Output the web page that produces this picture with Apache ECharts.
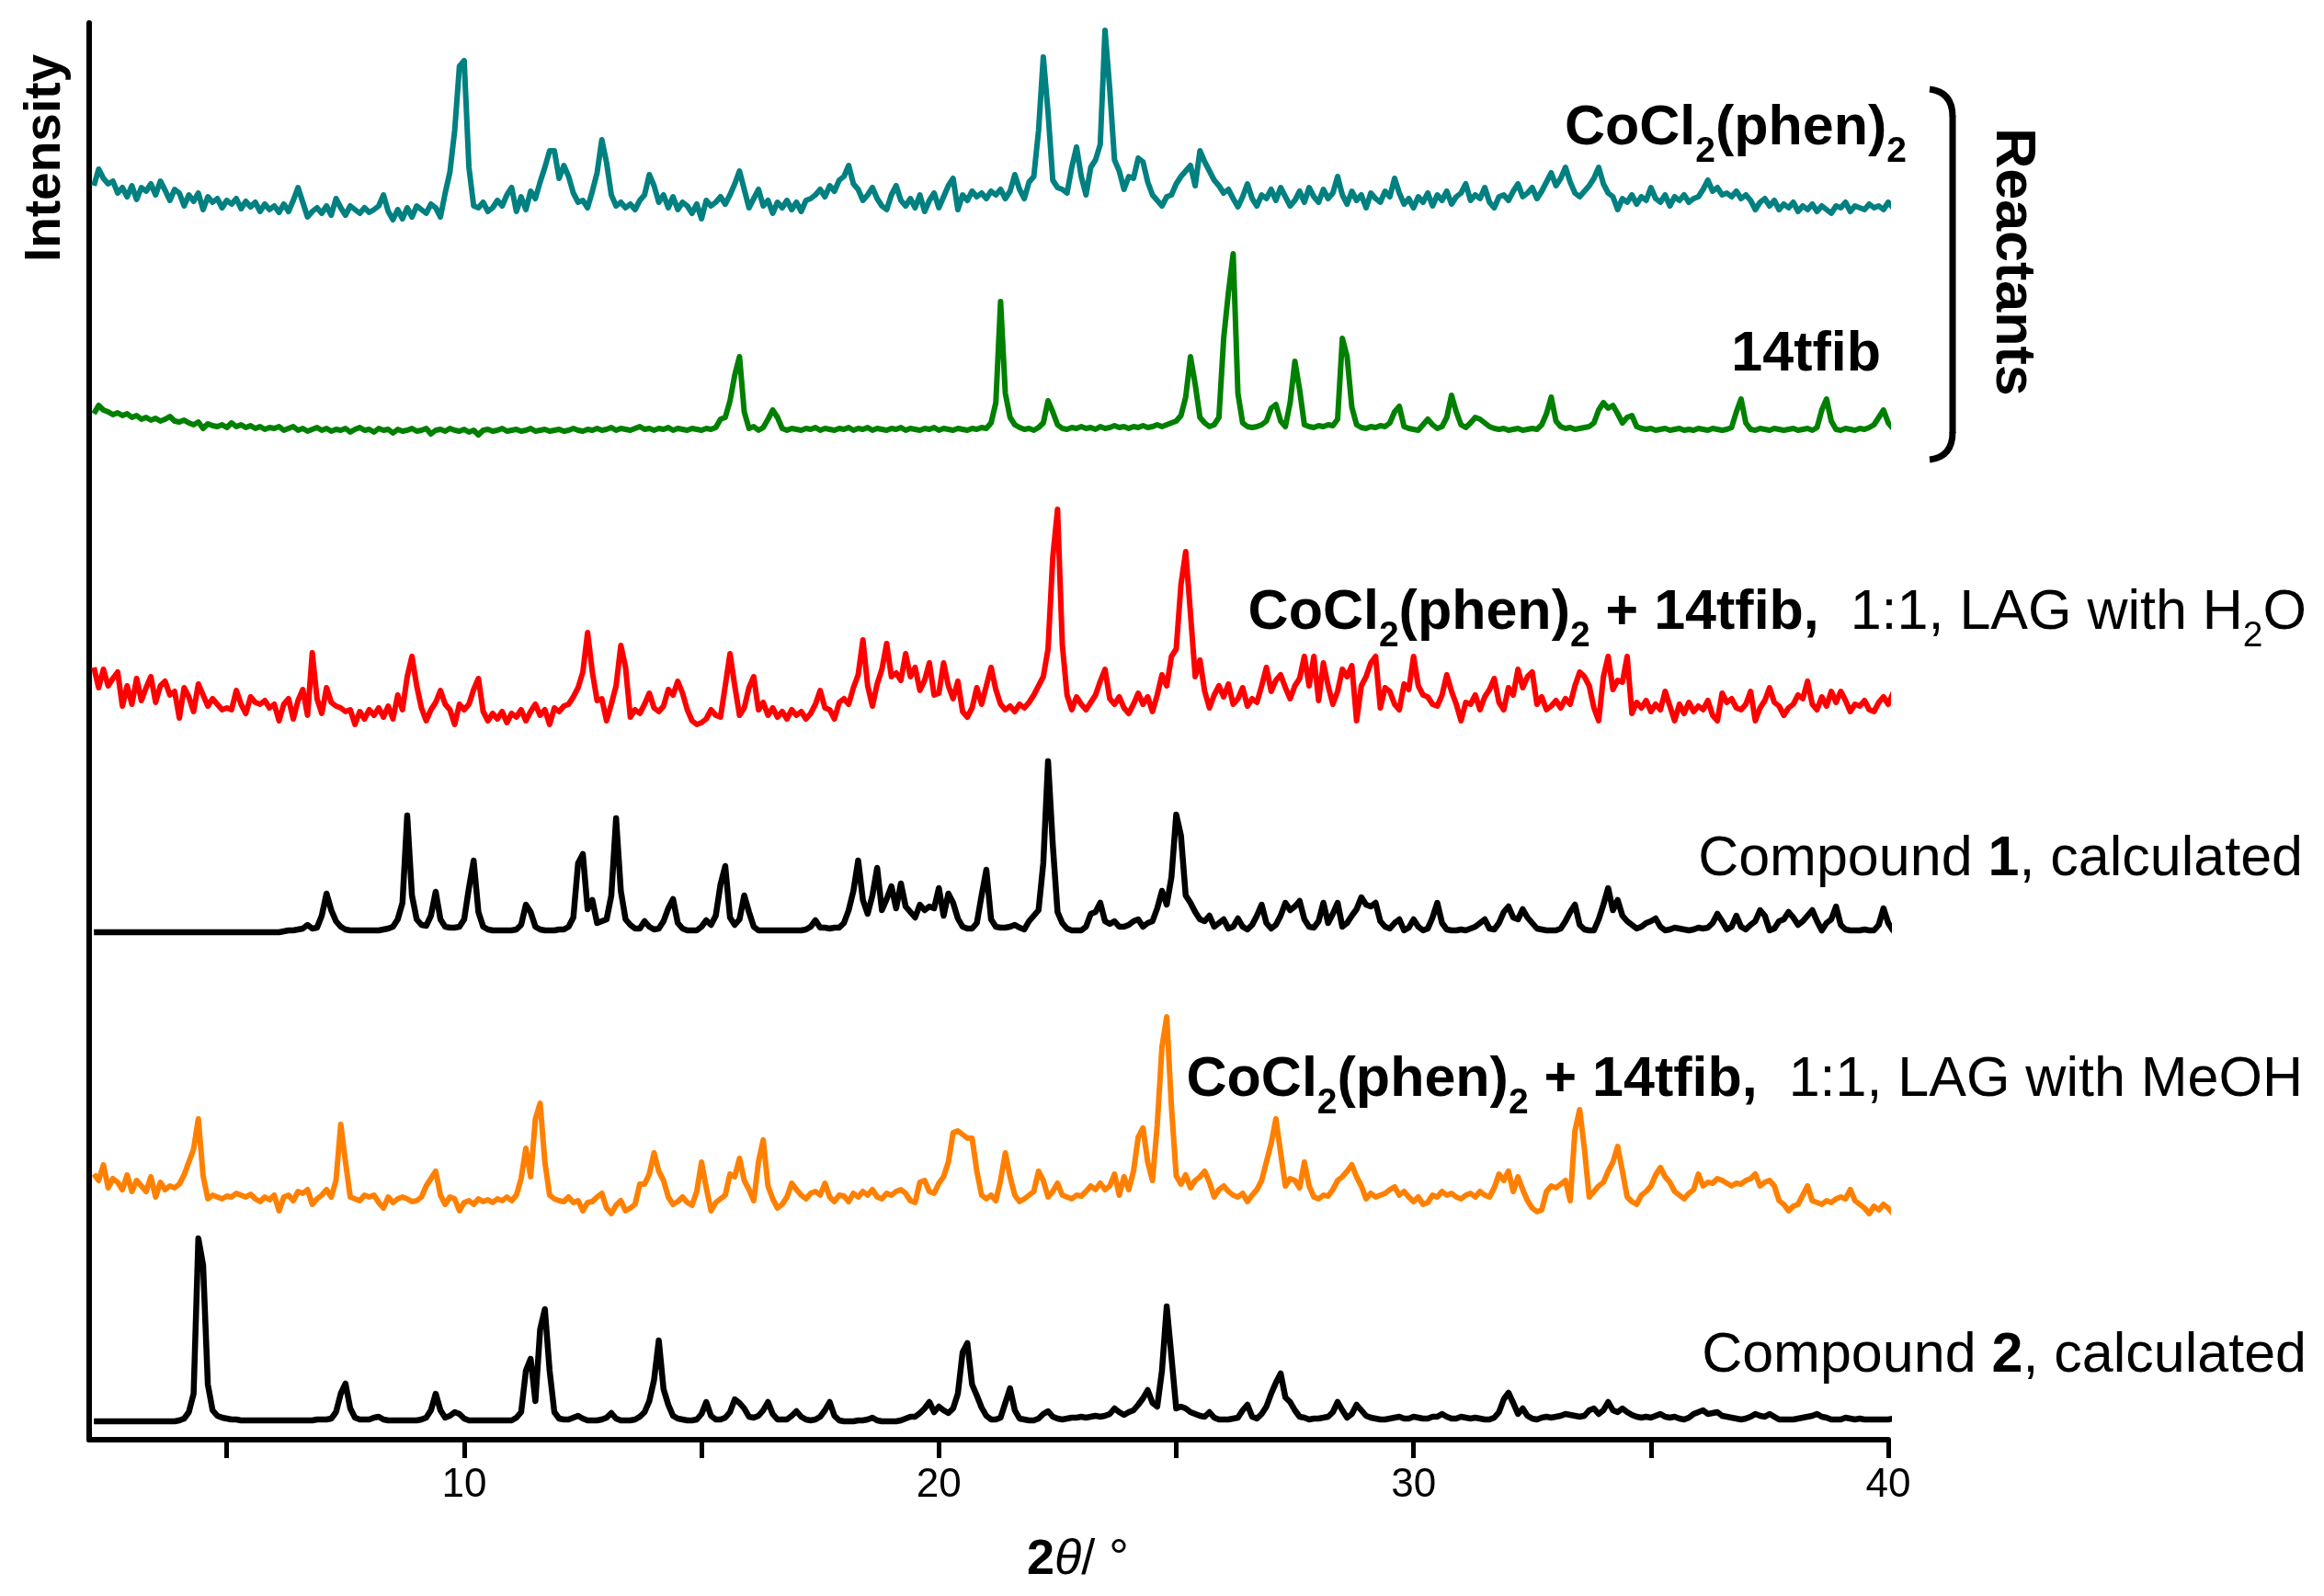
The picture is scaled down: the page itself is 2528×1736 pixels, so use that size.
<!DOCTYPE html>
<html>
<head>
<meta charset="utf-8">
<script src="https://cdn.jsdelivr.net/npm/echarts@6.0.0/dist/echarts.min.js"></script>
<style>html,body{margin:0;padding:0;background:#fff}#c{width:2528px;height:1736px}</style>
</head>
<body>
<div id="c"></div>
<script>
// 2θ sampling grid: 2.2° .. 40.2° in 0.1° steps (381 points)
const thetaStart = 2.2, thetaStep = 0.1, nPoints = 381;
const tickValues = [5, 10, 15, 20, 25, 30, 35, 40];
const labelValues = [10, 20, 30, 40];
const seriesNames = ['CoCl2(phen)2', '14tfib', 'LAG H2O', 'Compound 1 calc', 'LAG MeOH', 'Compound 2 calc'];
const seriesColors = ['#008080', '#008000', '#ff0000', '#000000', '#ff8000', '#000000'];
const offsets = [1344, 1098, 790, 552, 262, 20];

const cocl2phen2 = [
20,38,28,22,25,12,18,8,
20,5,18,14,22,10,25,15,4,16,
12,-2,10,3,12,-6,8,2,6,-4,
4,0,6,-5,3,-3,2,-8,0,-6,
-2,-9,0,-8,4,18,2,-14,-8,-4,
-10,-2,-12,6,-4,-12,-2,-6,-10,-4,
-9,-6,-2,10,-8,-17,-6,-16,-4,-14,
-2,-6,-10,0,-4,-14,12,35,80,150,
156,40,-2,-4,2,-8,-4,4,-2,10,
18,-8,8,-6,14,6,24,40,58,58,
28,42,30,12,2,4,-4,14,34,70,
45,10,-2,2,-4,0,-6,4,10,32,
20,2,10,-4,8,-6,2,-2,-10,0,
-16,4,-2,2,8,0,10,22,36,16,
-4,6,16,-2,4,-10,2,-4,4,-6,
2,-8,4,6,10,16,8,20,14,26,
30,42,22,16,4,10,18,6,-2,-6,
10,20,4,-2,6,-4,10,-8,4,12,
-4,8,20,28,-6,10,4,14,8,12,
6,14,10,16,6,14,32,16,6,24,
30,80,160,100,26,18,16,12,40,62,
30,10,40,48,65,189,125,48,36,16,
30,28,50,46,24,10,4,-2,8,10,
22,30,36,42,20,58,46,36,26,20,
12,16,6,-3,8,22,6,-2,10,6,
16,4,18,8,-2,4,14,2,18,8,
2,16,6,12,30,10,0,14,4,10,
-4,12,6,2,14,8,28,12,0,6,
-4,8,2,12,-2,10,4,14,0,8,
12,22,4,10,6,18,2,-4,8,10,
4,14,22,8,12,18,6,14,24,34,
20,28,40,24,12,8,14,20,28,40,
22,12,8,-6,6,2,10,0,8,4,
18,6,2,10,-2,8,4,10,2,6,
8,16,26,14,18,10,12,8,14,6,
10,4,-6,2,6,-2,4,-6,0,-4,
2,-8,-2,-6,0,-8,-2,-6,-10,-2,
-4,2,-8,-2,-4,-6,0,-4,-2,-6,
2,-4,-8
];

const tfib14 = [
18,27,22,20,17,19,16,18,
14,16,12,14,11,13,10,12,15,10,
9,11,8,6,9,2,7,5,4,6,
3,8,4,6,3,5,2,4,1,3,
2,4,0,2,4,0,2,-1,1,3,
0,2,-1,1,0,2,-2,1,3,0,
1,-2,2,0,1,-3,1,-1,0,2,
-1,0,2,-4,0,1,-1,2,0,-1,
1,-2,0,-5,0,1,-1,0,2,-1,
0,1,-1,0,2,-1,0,1,-1,0,
1,-1,0,2,0,-1,1,0,2,0,
1,3,0,2,1,0,2,4,1,2,
0,2,1,3,0,2,1,0,2,1,
0,2,1,3,12,14,32,60,80,20,
2,4,0,3,12,22,14,2,0,2,
1,0,2,1,3,0,2,1,0,2,
1,3,0,2,1,3,0,2,1,0,
2,1,3,0,2,1,0,2,1,3,
0,2,1,0,2,1,0,2,1,3,
2,8,30,140,40,14,6,3,1,2,
0,3,8,32,20,6,2,1,3,2,
4,2,3,1,4,2,3,5,3,4,
2,4,3,5,3,4,6,4,6,8,
10,16,36,80,50,14,8,4,6,14,
100,150,192,40,8,4,3,4,6,10,
24,28,10,4,30,75,44,6,4,3,
5,4,6,5,12,100,80,25,6,3,
2,4,3,5,4,8,20,26,4,2,
1,0,6,12,6,2,4,14,38,20,
6,3,8,14,12,8,4,2,1,2,
0,1,2,0,1,2,1,6,18,36,
10,4,2,3,1,2,3,4,8,22,
30,24,27,18,8,14,16,4,2,1,
2,0,1,2,0,1,2,0,1,0,
2,1,0,2,1,0,1,3,20,34,
8,1,0,2,1,0,2,1,0,1,
2,0,1,2,0,3,22,34,10,1,
0,2,1,0,2,1,3,6,14,22,
8,2,-4
];

const lagH2O = [
50,28,48,30,38,45,8,30,
10,38,14,28,40,12,30,35,20,24,
-5,28,18,2,32,20,8,16,10,4,
6,4,25,10,0,18,12,10,14,6,
10,-8,10,16,-6,14,26,-2,66,16,
0,28,12,8,6,2,4,-12,2,-6,
4,-2,6,-4,8,-6,20,4,40,62,
30,6,-8,4,12,25,10,4,-12,10,
4,10,26,38,2,-8,0,-6,2,-10,
0,-4,4,-8,2,10,-2,4,-12,6,
2,8,10,18,28,45,88,45,14,16,
-8,10,30,74,50,-4,4,0,10,22,
6,2,8,26,20,35,22,4,-8,-12,
-10,-6,4,-2,-4,30,65,30,-2,6,
28,40,4,12,-2,6,-4,2,-6,4,
-2,2,-6,0,10,25,6,4,-6,12,
16,10,28,42,80,30,8,32,48,76,
40,44,36,65,40,50,25,36,55,20,
22,55,30,16,35,2,-4,6,28,10,
30,50,26,10,4,8,2,10,6,12,
20,30,40,70,170,222,75,20,4,18,
10,4,12,20,35,48,16,10,18,6,
0,10,22,10,18,2,20,42,30,62,
70,140,176,109,40,58,24,6,20,30,
18,32,10,16,28,8,16,12,30,50,
24,36,42,28,16,30,38,62,30,62,
14,55,30,10,24,48,40,52,-8,30,
40,55,62,6,28,24,10,4,32,26,
62,30,20,18,10,8,20,42,24,10,
-8,12,10,20,4,18,26,38,12,4,
28,20,48,28,40,45,10,18,4,8,
14,6,16,10,30,45,40,30,6,-8,
40,62,26,36,34,62,0,12,6,14,
2,10,4,24,8,-8,10,0,12,2,
8,4,14,-2,-8,22,12,16,6,4,
10,24,-8,6,14,28,12,8,-2,6,
10,20,16,35,10,4,18,8,24,12,
24,14,2,10,8,14,4,2,12,18,
10,22,-2
];

const calc1 = [
0,0,0,0,0,0,0,0,
0,0,0,0,0,0,0,0,0,0,
0,0,0,0,0,0,0,0,0,0,
0,0,0,0,0,0,0,0,0,0,
0,0,1,2,2,3,4,8,4,5,
18,42,24,12,6,3,2,2,2,2,
2,2,2,3,4,6,14,32,127,40,
14,8,7,18,44,14,6,5,5,6,
14,48,78,22,6,3,2,2,2,2,
2,3,8,30,22,6,3,2,2,2,
3,3,6,16,75,85,25,35,10,12,
14,40,124,45,14,8,4,4,12,6,
3,4,12,26,36,10,4,2,2,2,
6,13,8,18,52,72,16,8,14,40,
22,6,2,2,2,2,2,2,2,2,
2,2,3,6,13,5,5,4,5,5,
10,24,45,78,35,20,40,70,24,36,
50,26,53,28,22,16,30,24,28,26,
48,18,42,32,15,6,4,4,10,40,
68,14,6,5,5,6,8,5,3,12,
18,24,75,186,95,22,10,4,2,2,
2,6,20,22,32,12,9,12,6,6,
8,12,14,6,10,12,26,45,30,60,
128,105,40,32,22,14,12,18,6,10,
14,4,6,15,6,3,8,18,30,10,
4,8,18,32,24,28,34,14,6,5,
12,32,10,20,32,6,10,18,25,38,
30,28,32,12,6,4,10,14,2,5,
14,6,2,4,16,32,10,3,2,2,
3,2,4,6,10,14,4,3,10,22,
28,16,14,25,16,10,4,3,2,2,
2,4,12,22,30,8,3,2,2,14,
30,48,24,35,18,12,8,4,6,10,
12,15,6,2,3,5,4,3,2,3,
5,4,5,10,20,12,3,6,18,6,
3,8,12,24,18,2,4,12,14,22,
16,8,12,18,24,12,2,10,14,28,
8,3,2,2,2,3,2,2,8,26,
10,2,0
];

const lagMeOH = [
27,20,37,12,22,18,10,26,
8,20,14,8,24,2,18,10,14,12,
16,26,40,54,87,25,0,4,2,0,
3,2,6,4,2,5,0,-3,2,-1,
4,-13,2,4,-2,8,6,10,-6,0,
4,10,2,20,81,40,2,0,-2,4,
2,4,-4,-10,2,-4,0,2,0,-3,
-2,2,14,22,30,4,-6,2,0,-13,
-4,-2,-6,0,-3,-1,-4,0,-2,2,
-2,4,22,55,24,87,104,40,4,0,
-2,-3,2,-4,-2,-13,-4,-3,2,6,
-10,-16,-7,-2,-13,-10,-6,16,16,27,
50,30,20,2,-6,-3,2,-4,-7,8,
40,12,-13,-4,0,4,27,24,44,20,
10,-2,40,64,14,0,-10,-6,2,17,
10,4,0,6,8,4,17,2,-3,4,
3,-3,6,2,8,4,10,2,0,6,
4,8,10,6,-2,-4,18,20,8,6,
17,24,40,72,74,70,66,66,30,4,
0,4,-2,20,50,24,4,-3,0,4,
8,30,20,2,8,17,4,2,0,4,
3,8,14,10,17,10,14,27,4,24,
10,30,67,77,40,20,80,165,198,100,
25,16,26,12,20,24,30,18,2,10,
14,8,4,2,6,-3,4,10,20,40,
60,87,50,14,22,20,12,40,14,2,
0,4,3,10,20,24,30,37,24,14,
0,6,2,4,6,10,13,4,8,2,
-3,2,-6,-4,4,2,8,4,6,2,
0,4,6,2,8,4,2,12,27,20,
30,8,24,10,-2,-10,-14,-12,8,14,
12,16,20,-2,74,97,54,2,8,14,
18,30,40,57,30,2,-3,-6,4,8,
14,26,34,24,18,8,4,0,6,10,
27,14,18,17,22,20,17,14,17,16,
20,22,27,14,18,20,14,-2,-6,-13,
-8,-6,4,14,-2,-4,-6,-2,-4,0,
2,0,10,-2,-6,-10,-16,-8,-12,-6,
-10,-16,-14
];

const calc2 = [
0,0,0,0,0,0,0,0,
0,0,0,0,0,0,0,0,0,0,
1,3,10,30,199,170,40,12,6,4,
3,2,2,1,1,1,1,1,1,1,
1,1,1,1,1,1,1,1,1,2,
2,2,3,10,30,41,14,4,2,2,
2,4,5,2,1,1,1,1,1,1,
1,2,4,12,30,12,4,6,10,8,
3,1,1,1,1,1,1,1,1,1,
1,4,10,55,68,22,100,122,55,10,
3,2,2,4,6,3,1,1,1,2,
4,9,3,1,1,1,2,5,10,22,
45,88,35,18,6,3,2,1,1,2,
8,21,6,2,2,4,10,24,20,14,
5,4,6,12,21,8,2,2,2,6,
11,5,2,1,2,5,12,21,6,1,
0,0,0,1,1,2,4,1,0,0,
0,0,1,3,5,5,9,14,21,10,
16,12,9,14,30,75,85,40,28,15,
6,2,2,4,20,36,12,3,2,1,
1,3,8,11,5,3,2,3,4,4,
5,4,5,6,5,6,8,14,10,7,
10,12,18,25,34,20,16,55,125,70,
14,16,14,10,8,6,5,10,4,2,
2,2,3,4,12,18,5,3,8,16,
30,42,52,26,21,12,5,4,2,3,
3,4,5,10,21,12,4,8,18,12,
6,4,3,2,2,3,4,5,3,3,
5,4,3,3,5,5,8,5,3,3,
5,4,3,4,3,2,2,4,10,24,
31,20,8,14,6,3,2,4,5,4,
5,6,8,7,6,5,6,12,14,8,
12,21,12,10,14,10,7,5,4,5,
4,6,8,5,4,5,3,2,4,8,
10,12,8,9,10,6,5,4,3,2,
3,5,8,6,5,8,5,2,2,2,
2,3,4,5,6,8,5,4,2,2,
2,4,3,2,3,2,2,2,2,2,
2,3,4
];

const patterns = [cocl2phen2, tfib14, lagH2O, calc1, lagMeOH, calc2];
const thetas = [];
for (let i = 0; i < nPoints; i++) thetas.push(+(thetaStart + thetaStep * i).toFixed(1));

const FONT = 'Liberation Sans, Arial, sans-serif';
const rich = {
  b:  { fontFamily: FONT, fontWeight: 'bold', fontSize: 61, lineHeight: 90, color: '#000' },
  bs: { fontFamily: FONT, fontWeight: 'bold', fontSize: 39, lineHeight: 44, verticalAlign: 'bottom', color: '#000' },
  n:  { fontFamily: FONT, fontWeight: 'normal', fontSize: 61, lineHeight: 90, color: '#000' },
  ns: { fontFamily: FONT, fontWeight: 'normal', fontSize: 39, lineHeight: 44, verticalAlign: 'bottom', color: '#000' }
};
const cocl = '{b|CoCl}{bs|2}{b|(phen)}{bs|2}';
const labels = [
  { text: cocl, right: 454, top: 95 },
  { text: '{b|14tfib}', right: 482, top: 341 },
  { text: cocl + '{b| + 14tfib,}{n|  1:1, LAG with H}{ns|2}{n|O}', right: 19, top: 622 },
  { text: '{n|Compound }{b|1}{n|, calculated}', right: 23, top: 890 },
  { text: cocl + '{b| + 14tfib,}{n|  1:1, LAG with MeOH}', right: 23, top: 1130 },
  { text: '{n|Compound }{b|2}{n|, calculated}', right: 19, top: 1430 }
];

const chart = echarts.init(document.getElementById('c'), null, { renderer: 'canvas' });
chart.setOption({
  animation: false,
  backgroundColor: '#fff',
  title: labels.map(l => ({
    text: l.text, right: l.right, top: l.top, padding: 0,
    textStyle: { rich: rich }
  })),
  grid: { left: 97, right: 474, top: 25, bottom: 170, containLabel: false, outerBoundsMode: 'none' },
  xAxis: {
    type: 'value', min: 2.1, max: 40,
    axisLine: { show: true, lineStyle: { color: '#000', width: 6 } },
    axisTick: { show: true, length: 20, inside: false, customValues: tickValues, lineStyle: { color: '#000', width: 5 } },
    axisLabel: { customValues: labelValues, fontFamily: FONT, fontSize: 44, color: '#000', margin: 28 },
    splitLine: { show: false },
    name: '{b|2}{i|θ}{n|/ °}',
    nameLocation: 'middle',
    nameGap: 104,
    nameTextStyle: {
      padding: [0, 0, 0, 194],
      rich: {
        b: { fontFamily: FONT, fontWeight: 'bold', fontSize: 54, color: '#000' },
        i: { fontFamily: FONT, fontStyle: 'italic', fontSize: 54, color: '#000' },
        n: { fontFamily: FONT, fontSize: 54, color: '#000' }
      }
    }
  },
  yAxis: {
    type: 'value', min: 0, max: 1541,
    axisLine: { show: true, lineStyle: { color: '#000', width: 6 } },
    axisTick: { show: false }, axisLabel: { show: false }, splitLine: { show: false }
  },
  series: patterns.map((arr, k) => ({
    name: seriesNames[k],
    type: 'line',
    showSymbol: false,
    clip: false,
    lineStyle: { color: seriesColors[k], width: (k === 3 || k === 5) ? 6.5 : 6, join: 'round' },
    itemStyle: { color: seriesColors[k] },
    data: arr.map((v, i) => [thetas[i], offsets[k] + v])
  })),
  graphic: [
    { type: 'text', x: 50, y: 172, rotation: Math.PI / 2,
      style: { text: 'Intensity', fontFamily: FONT, fontWeight: 'bold', fontSize: 55, fill: '#000', align: 'center', verticalAlign: 'middle' } },
    { type: 'text', x: 2189, y: 285, rotation: -Math.PI / 2,
      style: { text: 'Reactants', fontFamily: FONT, fontWeight: 'bold', fontSize: 61, fill: '#000', align: 'center', verticalAlign: 'middle' } },
    { type: 'bezierCurve', shape: { x1: 2099, y1: 97, cpx1: 2124, cpy1: 100, x2: 2124, y2: 127 },
      style: { stroke: '#000', lineWidth: 7, fill: null } },
    { type: 'line', shape: { x1: 2124, y1: 126, x2: 2124, y2: 471 },
      style: { stroke: '#000', lineWidth: 7 } },
    { type: 'bezierCurve', shape: { x1: 2124, y1: 470, cpx1: 2124, cpy1: 497, x2: 2099, y2: 500 },
      style: { stroke: '#000', lineWidth: 7, fill: null } }
  ]
});
</script>
</body>
</html>
